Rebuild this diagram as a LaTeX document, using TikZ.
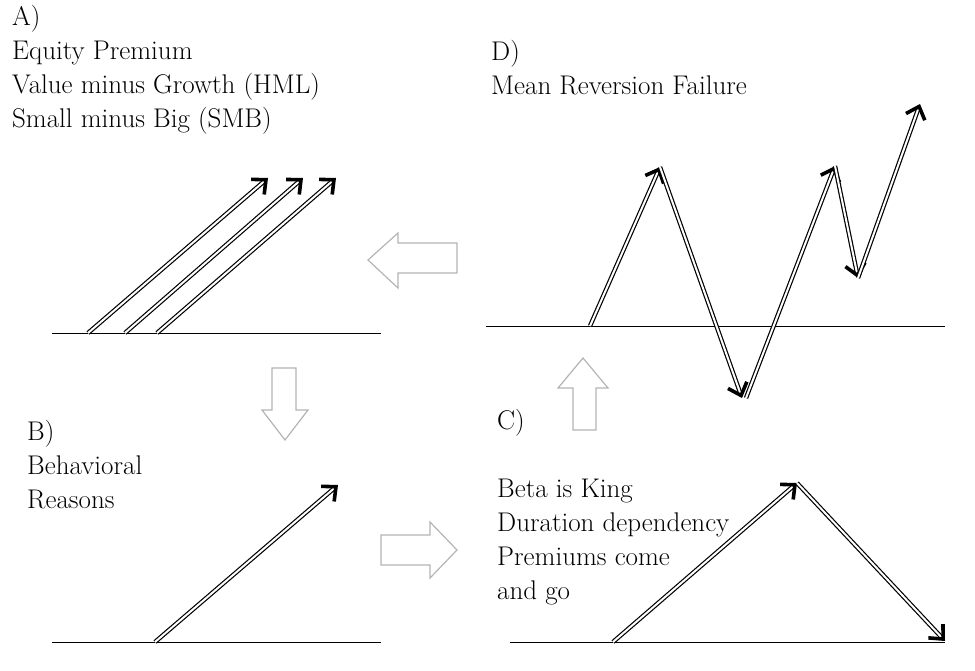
\documentclass[tikz,border=0pt]{standalone}
\usepackage{xcolor}
\usepackage{tikz}
\usetikzlibrary{arrows.meta}
\definecolor{BlockLine}{HTML}{B4B4B4}
\definecolor{Ink}{HTML}{000000}

\begin{document}
\begin{tikzpicture}[x=1pt,y=-1pt]
      \tikzstyle{lbl}=[anchor=north west, inner sep=0pt, align=left,
        font=\fontsize{27}{34}\selectfont]
      \tikzstyle{base}=[line width=1pt, color=Ink]
      \tikzstyle{dbl}=[double=white, double distance=2pt, line width=1.2pt, color=Ink,
        -{Straight Barb[length=11pt, width=20pt, line width=3.6pt]}]
      \tikzstyle{block}=[draw=BlockLine, fill=white, line width=1.2pt, line join=miter]
      \useasboundingbox (0,0) rectangle (975,670);

      % texts
      \node[lbl] (ta) at (12,5) {A)\\Equity Premium\\Value minus Growth (HML)\\Small minus Big (SMB)};
      \node[lbl] (td) at (491,40) {D)\\Mean Reversion Failure};
      \node[lbl] (tb) at (27,420) {B)\\Behavioral\\Reasons};
      \node[lbl] (tc) at (497,409) {C)\\[34pt]Beta is King\\Duration dependency\\Premiums come\\and go};

      % panel A
      \coordinate (a0) at (52,333);  \coordinate (a1) at (381,333);
      \coordinate (a2) at (88,333);  \coordinate (a3) at (268,178);
      \coordinate (a4) at (125,333); \coordinate (a5) at (303,178);
      \coordinate (a6) at (157,333); \coordinate (a7) at (336,178);
      \draw[base] (a0) -- (a1);
      \draw[dbl] (a2) -- (a3);
      \draw[dbl] (a4) -- (a5);
      \draw[dbl] (a6) -- (a7);

      % panel B
      \coordinate (b0) at (52,642);  \coordinate (b1) at (381,642);
      \coordinate (b2) at (155,642); \coordinate (b3) at (338,485);
      \draw[base] (b0) -- (b1);
      \draw[dbl] (b2) -- (b3);

      % panel C
      \coordinate (c0) at (510,642); \coordinate (c1) at (945,642);
      \coordinate (c2) at (613,642); \coordinate (c3) at (797,483);
      \coordinate (c4) at (945,641);
      \draw[base] (c0) -- (c1);
      \draw[dbl] (c2) -- (c3);
      \draw[dbl] (c3) -- (c4);

      % panel D
      \coordinate (d0) at (486,326); \coordinate (d1) at (945,326);
      \coordinate (d2) at (590,326); \coordinate (d3) at (660,167);
      \coordinate (d4) at (742,398); \coordinate (d5) at (746,398);
      \coordinate (d6) at (835,166); \coordinate (d7) at (858,278);
      \coordinate (d8) at (920,104);
      \draw[base] (d0) -- (d1);
      \draw[dbl] (d2) -- (d3);
      \draw[dbl] (d3) -- (d4);
      \draw[dbl] (d5) -- (d6);
      \draw[dbl] (d6) -- (d7);
      \draw[dbl] (d7) -- (d8);

      % block arrows
      \draw[block] (368,260) -- (398,233) -- (398,243) -- (457,243) -- (457,273)
        -- (398,273) -- (398,288) -- cycle;
      \draw[block] (285,440) -- (262,410) -- (272,410) -- (272,368) -- (296,368)
        -- (296,410) -- (308,410) -- cycle;
      \draw[block] (457,550) -- (430,522) -- (430,535) -- (381,535) -- (381,565)
        -- (430,565) -- (430,578) -- cycle;
      \draw[block] (583,358) -- (558,388) -- (573,388) -- (573,430) -- (596,430)
        -- (596,388) -- (608,388) -- cycle;
    \end{tikzpicture}
\end{document}
